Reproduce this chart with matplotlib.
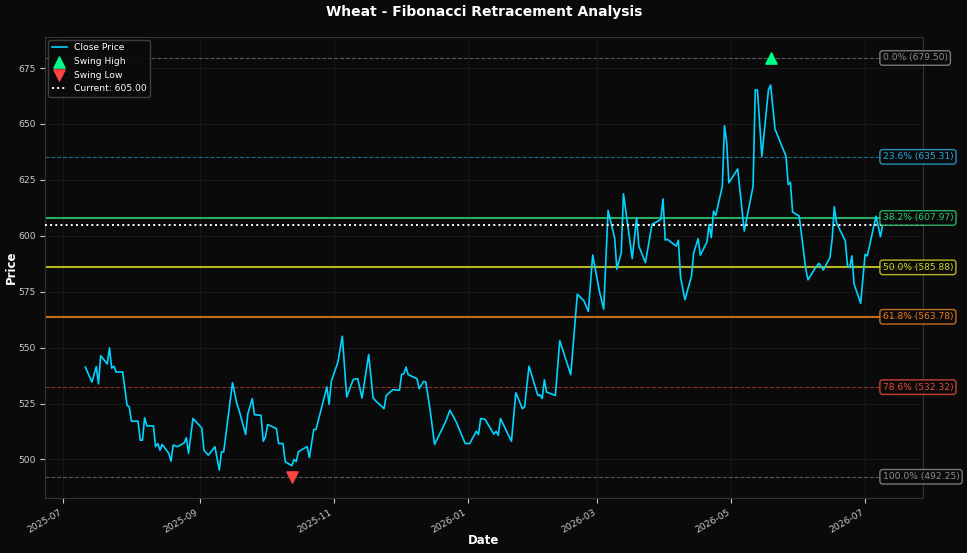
"""Wheat close price with Fibonacci retracement levels (dark theme)."""
import pandas as pd
import matplotlib
matplotlib.use("Agg")
import matplotlib.pyplot as plt
import matplotlib.dates as mdates

BG = "#0a0a0a"

dates = [
    "2025-07-11", "2025-07-14", "2025-07-16", "2025-07-17", "2025-07-18", "2025-07-21", "2025-07-22", "2025-07-23", "2025-07-24", "2025-07-25",
    "2025-07-28", "2025-07-30", "2025-07-31", "2025-08-01", "2025-08-04", "2025-08-05", "2025-08-06", "2025-08-07", "2025-08-08", "2025-08-11",
    "2025-08-12", "2025-08-13", "2025-08-14", "2025-08-15", "2025-08-18", "2025-08-19", "2025-08-20", "2025-08-22", "2025-08-25", "2025-08-26",
    "2025-08-27", "2025-08-29", "2025-09-02", "2025-09-03", "2025-09-05", "2025-09-08", "2025-09-10", "2025-09-11", "2025-09-12", "2025-09-16",
    "2025-09-18", "2025-09-19", "2025-09-22", "2025-09-23", "2025-09-25", "2025-09-26", "2025-09-29", "2025-09-30", "2025-10-01", "2025-10-02",
    "2025-10-06", "2025-10-07", "2025-10-09", "2025-10-10", "2025-10-13", "2025-10-14", "2025-10-15", "2025-10-16", "2025-10-19", "2025-10-20",
    "2025-10-21", "2025-10-23", "2025-10-24", "2025-10-29", "2025-10-30", "2025-10-31", "2025-11-03", "2025-11-05", "2025-11-07", "2025-11-10",
    "2025-11-12", "2025-11-14", "2025-11-17", "2025-11-19", "2025-11-20", "2025-11-24", "2025-11-25", "2025-11-28", "2025-12-01", "2025-12-02",
    "2025-12-03", "2025-12-04", "2025-12-05", "2025-12-09", "2025-12-10", "2025-12-12", "2025-12-13", "2025-12-15", "2025-12-17", "2025-12-22",
    "2025-12-24", "2025-12-27", "2025-12-29", "2025-12-31", "2026-01-02", "2026-01-05", "2026-01-06", "2026-01-07", "2026-01-09", "2026-01-13",
    "2026-01-14", "2026-01-15", "2026-01-16", "2026-01-21", "2026-01-23", "2026-01-26", "2026-01-27", "2026-01-29", "2026-02-02", "2026-02-03",
    "2026-02-04", "2026-02-05", "2026-02-06", "2026-02-10", "2026-02-12", "2026-02-17", "2026-02-20", "2026-02-23", "2026-02-25", "2026-02-27",
    "2026-03-02", "2026-03-04", "2026-03-06", "2026-03-09", "2026-03-10", "2026-03-12", "2026-03-13", "2026-03-17", "2026-03-19", "2026-03-20",
    "2026-03-23", "2026-03-26", "2026-03-30", "2026-03-31", "2026-04-01", "2026-04-02", "2026-04-06", "2026-04-07", "2026-04-08", "2026-04-10",
    "2026-04-13", "2026-04-14", "2026-04-16", "2026-04-17", "2026-04-20", "2026-04-21", "2026-04-22", "2026-04-23", "2026-04-24", "2026-04-27",
    "2026-04-28", "2026-04-29", "2026-04-30", "2026-05-04", "2026-05-07", "2026-05-11", "2026-05-12", "2026-05-13", "2026-05-15", "2026-05-18",
    "2026-05-19", "2026-05-21", "2026-05-26", "2026-05-27", "2026-05-28", "2026-05-29", "2026-06-01", "2026-06-04", "2026-06-05", "2026-06-08",
    "2026-06-10", "2026-06-12", "2026-06-15", "2026-06-16", "2026-06-17", "2026-06-18", "2026-06-22", "2026-06-23", "2026-06-24", "2026-06-25",
    "2026-06-26", "2026-06-29", "2026-07-01", "2026-07-02", "2026-07-06", "2026-07-08", "2026-07-09",
]

close = [
    541.3, 534.6, 541.5, 533.8, 546.4, 542.7, 549.9, 540.8, 541.7, 539.1,
    539.1, 524.2, 523.5, 517.1, 517.1, 508.6, 508.6, 518.6, 515.0, 515.0,
    505.7, 507.1, 504.1, 506.7, 502.7, 499.2, 506.4, 505.7, 507.4, 509.7,
    502.7, 518.3, 514.1, 504.1, 501.9, 505.7, 495.2, 503.4, 503.4, 534.3,
    524.9, 522.0, 511.1, 520.5, 527.2, 520.0, 519.7, 508.1, 510.1, 515.6,
    513.8, 507.1, 507.1, 499.0, 497.2, 500.0, 499.0, 503.4, 505.2, 505.7,
    500.8, 513.4, 513.4, 532.4, 524.6, 535.0, 543.5, 555.1, 527.9, 535.8,
    536.1, 527.5, 546.9, 527.6, 526.4, 522.7, 528.6, 531.2, 530.9, 538.0,
    538.3, 541.3, 537.9, 536.1, 531.6, 534.9, 534.6, 522.0, 506.7, 516.8,
    522.0, 516.5, 511.6, 507.1, 507.1, 512.6, 511.1, 518.3, 517.9, 511.3,
    512.6, 510.8, 518.3, 508.1, 529.8, 522.7, 523.5, 541.7, 528.6, 528.9,
    527.2, 535.6, 530.1, 528.6, 553.1, 537.9, 573.9, 570.9, 566.2, 591.4,
    575.4, 567.2, 611.3, 598.9, 585.1, 592.5, 618.8, 589.8, 608.1, 595.4,
    588.0, 605.1, 607.3, 616.5, 598.1, 598.4, 595.4, 598.0, 581.4, 571.4,
    582.1, 592.5, 598.7, 591.3, 597.2, 605.1, 599.2, 611.0, 609.1, 622.1,
    649.2, 641.7, 623.7, 629.9, 602.1, 622.1, 665.2, 665.2, 635.5, 665.2,
    667.4, 647.7, 635.5, 622.9, 623.9, 610.6, 608.8, 585.1, 580.3, 585.1,
    587.7, 584.7, 590.3, 598.4, 613.0, 605.8, 597.7, 586.5, 585.8, 591.0,
    578.4, 569.8, 591.7, 591.0, 608.8, 599.6, 605.0,
]

swing_high_date, swing_high = "2026-05-19", 679.50
swing_low_date, swing_low = "2025-10-13", 492.25
current = 605.00

fib_ratios = [0.0, 0.236, 0.382, 0.5, 0.618, 0.786, 1.0]
fib_colors = ["#8c8c8c", "#29a9d8", "#2ecc71", "#d4d42a", "#e67e22", "#e74c3c", "#8c8c8c"]
golden = {0.382, 0.5, 0.618}


def main():
    dt = pd.to_datetime(dates)

    fig, ax = plt.subplots(figsize=(9.67, 5.53), dpi=100)
    fig.patch.set_facecolor(BG)
    ax.set_facecolor(BG)

    ax.plot(dt, close, color="#00d4ff", lw=1.2, label="Close Price", zorder=3)
    ax.scatter([pd.Timestamp(swing_high_date)], [swing_high], marker="^", s=65,
               color="#00ff88", label="Swing High", zorder=5)
    ax.scatter([pd.Timestamp(swing_low_date)], [swing_low], marker="v", s=65,
               color="#ff4444", label="Swing Low", zorder=5)

    span = swing_high - swing_low
    for ratio, color in zip(fib_ratios, fib_colors):
        level = swing_high - ratio * span
        if ratio in golden:
            ax.axhline(level, color=color, lw=1.5, alpha=0.85, zorder=2)
        else:
            ax.axhline(level, color=color, ls="--", lw=0.8, alpha=0.6, zorder=2)
        ax.text(dt[-1], level, f"{ratio * 100:.1f}% ({level:.2f})", color=color,
                fontsize=6.6, va="center", ha="left", zorder=6,
                bbox=dict(boxstyle="round,pad=0.3", facecolor=BG,
                          edgecolor=color, alpha=0.85))

    ax.axhline(current, color="white", ls=":", lw=1.4, label=f"Current: {current:.2f}", zorder=4)

    ax.set_title("Wheat - Fibonacci Retracement Analysis", color="white",
                 fontsize=10, fontweight="bold", pad=15)
    ax.set_xlabel("Date", color="white", fontsize=8.5, fontweight="bold", labelpad=0)
    ax.set_ylabel("Price", color="white", fontsize=8.5, fontweight="bold", labelpad=0)

    ax.xaxis.set_major_locator(mdates.MonthLocator(bymonth=[1, 3, 5, 7, 9, 11]))
    ax.xaxis.set_major_formatter(mdates.DateFormatter("%Y-%m"))
    ax.tick_params(colors="#cccccc", labelsize=6.6)
    for lbl in ax.get_xticklabels():
        lbl.set_rotation(30)
        lbl.set_ha("right")

    ax.grid(True, color="#2a2a2a", lw=0.5, alpha=0.6)
    for sp in ax.spines.values():
        sp.set_color("#333333")

    leg = ax.legend(loc="upper left", fontsize=6.6, facecolor=BG, edgecolor="#444444",
                    framealpha=0.9, handlelength=1.6, borderaxespad=0.3)
    for t in leg.get_texts():
        t.set_color("white")

    fig.subplots_adjust(left=0.047, right=0.954, top=0.933, bottom=0.100)
    fig.savefig("out.png", facecolor=fig.get_facecolor())


if __name__ == "__main__":
    main()
